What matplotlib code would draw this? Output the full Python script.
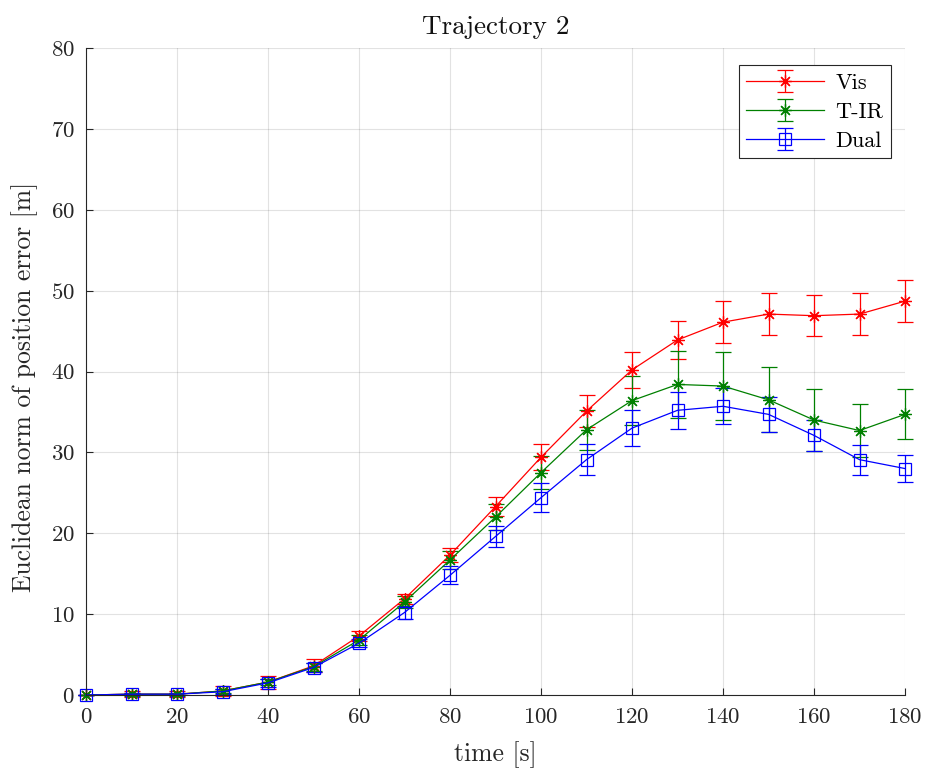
import matplotlib
matplotlib.use("Agg")
import matplotlib.pyplot as plt
import numpy as np

t = [0, 10, 20, 30, 40, 50, 60, 70, 80, 90, 100, 110, 120, 130, 140, 150, 160, 170, 180]
vis_mean = [0.0, 0.1, 0.1, 0.5, 1.6, 3.6, 7.3, 11.9, 17.3, 23.3, 29.4, 35.1, 40.2, 43.9, 46.1, 47.1, 46.9, 47.1, 48.7]
vis_err = [0.05, 0.4, 0.4, 0.6, 0.8, 0.8, 0.6, 0.6, 0.9, 1.2, 1.6, 2.0, 2.2, 2.4, 2.6, 2.6, 2.5, 2.6, 2.6]
tir_mean = [0.0, 0.1, 0.1, 0.5, 1.6, 3.5, 6.8, 11.5, 16.7, 22.0, 27.5, 32.8, 36.4, 38.4, 38.2, 36.5, 34.0, 32.7, 34.7]
tir_err = [0.05, 0.2, 0.2, 0.3, 0.4, 0.5, 0.6, 0.8, 1.1, 1.6, 2.0, 2.5, 3.0, 4.1, 4.2, 4.0, 3.8, 3.3, 3.1]
dual_mean = [0.0, 0.1, 0.1, 0.4, 1.5, 3.4, 6.4, 10.2, 14.8, 19.6, 24.4, 29.1, 33.0, 35.2, 35.7, 34.7, 32.1, 29.1, 28.0]
dual_err = [0.05, 0.1, 0.1, 0.3, 0.5, 0.5, 0.5, 0.8, 1.1, 1.35, 1.8, 1.9, 2.2, 2.3, 2.2, 2.15, 1.9, 1.85, 1.65]

plt.rcParams['font.family'] = 'serif'
plt.rcParams['font.serif'] = ['cmr10']
plt.rcParams['mathtext.fontset'] = 'cm'
plt.rcParams['axes.formatter.use_mathtext'] = True

fig = plt.figure(figsize=(9.28, 7.68), dpi=100)
ax = fig.add_axes([86/928, 73/768, (905-86)/928, (695-48)/768])

star = (8, 2, 0)
common = dict(capsize=6, elinewidth=0.9, linewidth=0.9, markeredgewidth=0.9, capthick=0.9)
series = [
    (vis_mean, vis_err, (1, 0, 0), star, 9, 'Vis'),
    (tir_mean, tir_err, (0, 0.5, 0), star, 9, 'T-IR'),
    (dual_mean, dual_err, (0, 0, 1), 's', 9, 'Dual'),
]
for m, e, c, mk, ms, lab in series:
    cont = ax.errorbar(t, m, yerr=e, color=c, marker=mk, markersize=ms,
                       markerfacecolor='none', label=lab, **common)
    cont.lines[0].set_clip_on(False)
    for art in cont.lines[1]:
        art.set_clip_on(False)
    for art in cont.lines[2]:
        art.set_clip_on(False)

ax.set_xlim(0, 180)
ax.set_ylim(0, 80)
ax.set_xticks(np.arange(0, 181, 20))
ax.set_yticks(np.arange(0, 81, 10))
ax.grid(True, color='#262626', alpha=0.13, linewidth=0.8)
ax.set_axisbelow(True)
for s in ['top', 'right']:
    ax.spines[s].set_visible(False)
for s in ['left', 'bottom']:
    ax.spines[s].set_color('#262626')
    ax.spines[s].set_linewidth(0.8)
ax.tick_params(direction='in', length=5, labelsize=16.5, colors='#262626', labelcolor='#262626')
ax.tick_params(axis='x', pad=9)
ax.tick_params(axis='y', pad=8)

ax.set_xlabel('time [s]', fontsize=18.5, color='#262626')
ax.set_ylabel('Euclidean norm of position error [m]', fontsize=18.5, color='#262626')
ax.xaxis.set_label_coords(0.5, -0.071)
ax.yaxis.set_label_coords(-0.0586, 0.476)
ax.set_title('Trajectory 2', fontsize=19.5, color='#111111', pad=10)

leg = ax.legend(loc='upper right', bbox_to_anchor=(0.983, 0.973), fontsize=16, fancybox=False,
                edgecolor='#262626', framealpha=1, borderpad=0.35, handlelength=3.5,
                labelspacing=0.42, handletextpad=0.5, borderaxespad=0)
leg.get_frame().set_linewidth(0.8)

fig.savefig('out.png', dpi=100)
